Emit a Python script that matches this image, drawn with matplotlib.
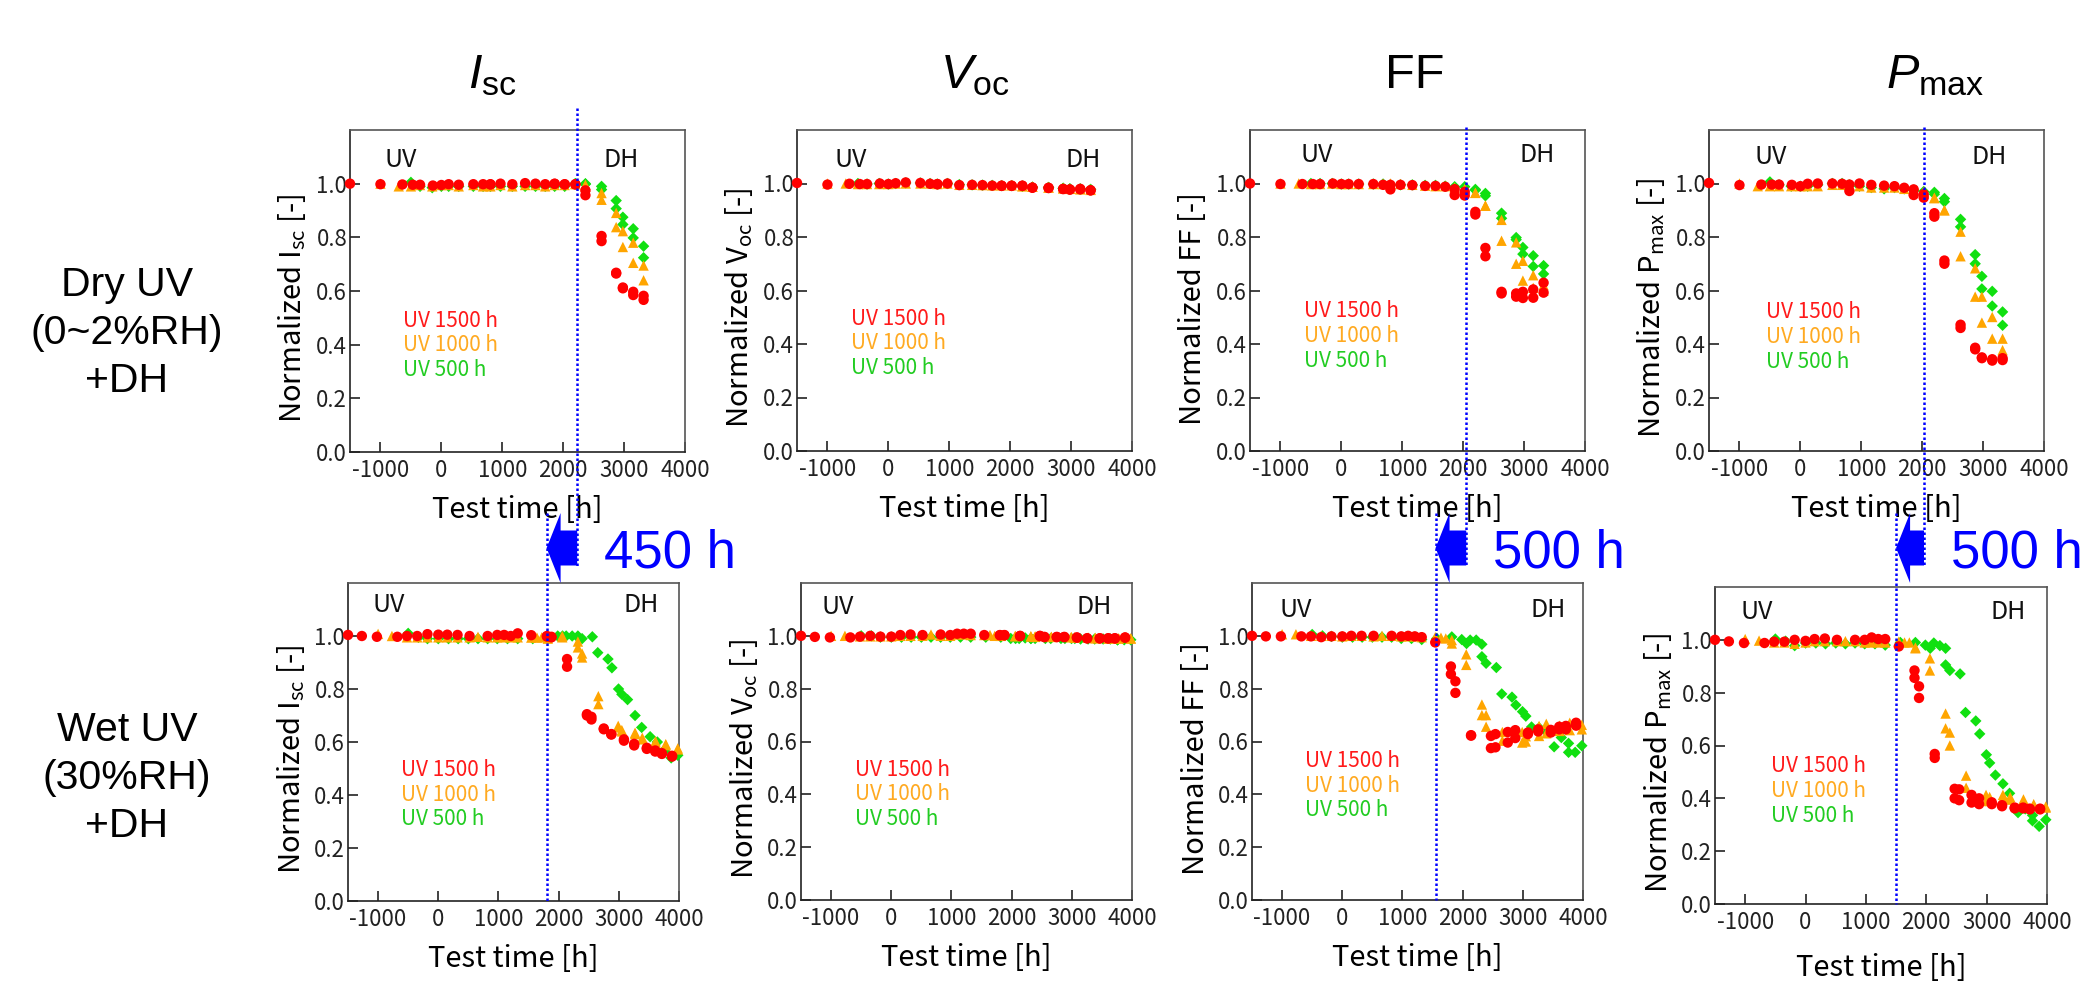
import matplotlib
matplotlib.use('Agg')
import matplotlib.pyplot as plt
from matplotlib.lines import Line2D
from matplotlib.patches import Polygon
from matplotlib.ticker import FormatStrFormatter

plt.rcParams['font.family'] = ['Noto Sans CJK KR', 'DejaVu Sans']
plt.rcParams['axes.unicode_minus'] = False
plt.rcParams['mathtext.fontset'] = 'custom'
plt.rcParams['mathtext.rm'] = 'Liberation Sans'
plt.rcParams['mathtext.it'] = 'Liberation Sans:italic'

# ---------------- data: Dry UV (0~2%RH) + DH ----------------
dry_t_red = [-1500, -1000, -640, -470, -350, -140, 0, 120, 285, 525, 685, 805, 805, 970, 1165, 1375, 1545, 1705,
             1860, 1860, 2025, 2025, 2200, 2200, 2365, 2365, 2630, 2630, 2870, 2870, 2980, 2980, 3150, 3150, 3320, 3320]
dry_isc_red = [1.0, 0.998, 0.997, 0.996, 0.996, 0.993, 0.995, 0.998, 0.996, 0.998, 0.998, 0.998, 0.997, 1.0, 0.998,
               1.002, 1.0, 0.998, 1.0, 0.999, 0.998, 0.997, 0.998, 0.997, 0.975, 0.957, 0.805, 0.786, 0.668, 0.665,
               0.613, 0.61, 0.597, 0.585, 0.582, 0.567]
dry_voc_red = [1.002, 0.996, 0.999, 0.998, 0.998, 1.0, 0.998, 1.001, 1.004, 1.002, 0.999, 0.998, 0.997, 1.0, 0.994,
               0.995, 0.994, 0.992, 0.992, 0.991, 0.992, 0.991, 0.992, 0.991, 0.985, 0.984, 0.984, 0.983, 0.98, 0.979,
               0.978, 0.977, 0.98, 0.978, 0.975, 0.974]
dry_ff_red = [1.0, 0.998, 0.998, 0.998, 0.998, 1.0, 0.998, 0.998, 0.998, 0.998, 0.995, 0.995, 0.978, 0.995, 0.994,
              0.991, 0.991, 0.988, 0.979, 0.957, 0.969, 0.955, 0.894, 0.884, 0.759, 0.728, 0.595, 0.589, 0.589, 0.577,
              0.595, 0.572, 0.604, 0.573, 0.629, 0.592]
dry_pmax_red = [1.002, 0.994, 0.996, 0.996, 0.996, 0.995, 0.99, 0.999, 1.0, 1.0, 0.999, 0.996, 0.972, 1.0, 0.995,
                0.992, 0.99, 0.984, 0.978, 0.957, 0.96, 0.947, 0.889, 0.876, 0.712, 0.70, 0.472, 0.46, 0.386, 0.38,
                0.35, 0.347, 0.343, 0.338, 0.347, 0.34]

dry_t_orange = [-1000, -700, -500, -350, -150, 0, 120, 285, 525, 685, 805, 970, 1165, 1375, 1545, 1705, 1860, 2025,
                2200, 2200, 2365, 2365, 2630, 2630, 2870, 2870, 2980, 2980, 3150, 3150, 3320, 3320]
dry_isc_orange = [1.0, 0.99, 0.99, 0.995, 0.99, 0.995, 0.995, 0.99, 0.995, 0.99, 0.99, 0.995, 0.99, 0.995, 0.995,
                  0.99, 0.995, 0.995, 1.0, 0.998, 0.996, 0.99, 0.965, 0.94, 0.891, 0.838, 0.823, 0.764, 0.78, 0.705,
                  0.695, 0.64]
dry_voc_orange = [1.0, 1.0, 0.998, 0.998, 0.998, 0.998, 1.0, 1.0, 1.0, 1.0, 0.998, 1.0, 0.995, 0.995, 0.994, 0.993,
                  0.993, 0.993, 0.99, 0.99, 0.988, 0.988, 0.985, 0.985, 0.982, 0.982, 0.98, 0.98, 0.98, 0.978,
                  0.978, 0.976]
dry_ff_orange = [1.0, 1.0, 0.998, 0.998, 1.0, 0.998, 0.998, 0.998, 0.998, 0.998, 1.0, 0.998, 0.995, 0.992, 0.99,
                 0.99, 0.985, 0.98, 0.965, 0.965, 0.917, 0.917, 0.864, 0.786, 0.78, 0.70, 0.711, 0.637, 0.657, 0.61,
                 0.62, 0.60]
dry_pmax_orange = [1.0, 0.99, 0.99, 0.99, 0.99, 0.99, 0.99, 0.99, 0.995, 0.995, 0.995, 0.99, 0.985, 0.985, 0.985,
                   0.98, 0.975, 0.97, 0.947, 0.945, 0.9, 0.9, 0.82, 0.728, 0.683, 0.577, 0.577, 0.48, 0.501, 0.42,
                   0.42, 0.377]

dry_t_green = [-500, -350, -150, 0, 120, 285, 525, 685, 805, 970, 1165, 1375, 1545, 1705, 1860, 2025,
               2200, 2200, 2365, 2365, 2630, 2630, 2870, 2870, 2980, 2980, 3150, 3150, 3320, 3320]
dry_isc_green = [1.005, 0.99, 0.985, 0.99, 0.99, 0.99, 0.99, 0.99, 0.99, 0.99, 0.99, 0.99, 0.99, 0.99, 0.99, 0.99,
                 1.0, 1.0, 1.0, 0.998, 0.99, 0.978, 0.937, 0.907, 0.875, 0.848, 0.832, 0.798, 0.767, 0.724]
dry_voc_green = [1.0, 0.998, 1.0, 0.998, 1.0, 1.002, 1.002, 1.0, 0.998, 1.0, 0.996, 0.995, 0.994, 0.993, 0.992,
                 0.992, 0.99, 0.99, 0.986, 0.986, 0.985, 0.985, 0.982, 0.982, 0.98, 0.98, 0.98, 0.979, 0.978, 0.977]
dry_ff_green = [1.0, 1.0, 1.0, 0.998, 0.998, 0.998, 0.998, 0.998, 0.995, 0.995, 0.995, 0.993, 0.993, 0.99, 0.988,
                0.988, 0.978, 0.975, 0.963, 0.954, 0.889, 0.87, 0.798, 0.79, 0.761, 0.736, 0.73, 0.69, 0.693, 0.662]
dry_pmax_green = [1.006, 0.995, 0.99, 0.99, 0.99, 0.995, 1.0, 1.0, 0.995, 0.99, 0.985, 0.98, 0.985, 0.98, 0.975,
                  0.97, 0.967, 0.96, 0.944, 0.932, 0.866, 0.838, 0.734, 0.70, 0.653, 0.606, 0.597, 0.542, 0.52, 0.47]

# ---------------- data: Wet UV (30%RH) + DH ----------------
wet_t_red = [-1500, -1270, -1020, -680, -520, -350, -180, 0, 150, 320, 520, 820, 980, 1095, 1205, 1320, 1545,
             1805, 1805, 1880, 1880, 2140, 2140, 2470, 2470, 2545, 2545, 2750, 2750, 2875, 2875, 3085, 3085,
             3255, 3255, 3465, 3465, 3605, 3605, 3715, 3715, 3885, 3885]
wet_isc_red = [1.004, 1.0, 0.997, 0.997, 1.0, 1.0, 1.007, 1.005, 1.005, 1.004, 1.0, 1.0, 1.004, 1.004, 1.0, 1.01,
               1.003, 1.0, 0.998, 0.997, 0.995, 0.913, 0.884, 0.705, 0.70, 0.695, 0.685, 0.651, 0.648, 0.63, 0.628,
               0.61, 0.605, 0.593, 0.587, 0.578, 0.574, 0.568, 0.564, 0.558, 0.555, 0.548, 0.545]
wet_voc_red = [1.0, 0.996, 0.994, 0.994, 0.997, 1.0, 0.997, 0.997, 1.003, 1.005, 1.003, 1.005, 1.003, 1.008, 1.008,
               1.008, 1.003, 1.003, 1.002, 1.003, 1.002, 1.0, 0.999, 1.0, 0.999, 0.996, 0.995, 0.996, 0.995, 0.996,
               0.995, 0.994, 0.993, 0.991, 0.99, 0.991, 0.99, 0.991, 0.99, 0.991, 0.99, 0.994, 0.993]
wet_ff_red = [1.0, 0.998, 0.998, 0.998, 0.998, 0.995, 0.998, 0.998, 1.0, 1.0, 1.0, 1.0, 0.998, 1.0, 0.998, 0.995,
              0.975, 0.884, 0.855, 0.828, 0.784, 0.624, 0.622, 0.621, 0.575, 0.628, 0.578, 0.636, 0.596, 0.643,
              0.613, 0.634, 0.628, 0.646, 0.638, 0.644, 0.634, 0.656, 0.646, 0.659, 0.646, 0.671, 0.66]
wet_pmax_red = [1.0, 0.994, 0.988, 0.988, 0.993, 0.993, 1.0, 0.996, 1.003, 1.005, 1.0, 1.0, 1.0, 1.009, 1.003,
                1.003, 0.975, 0.884, 0.856, 0.824, 0.78, 0.568, 0.553, 0.436, 0.40, 0.434, 0.393, 0.413, 0.384,
                0.40, 0.378, 0.385, 0.378, 0.374, 0.37, 0.365, 0.362, 0.365, 0.362, 0.361, 0.358, 0.361, 0.358]

wet_t_orange = [-1000, -770, -520, -350, -180, 0, 150, 320, 520, 660, 820, 980, 1095, 1205, 1320, 1545, 1640, 1720,
                1820, 1820, 2060, 2060, 2320, 2320, 2390, 2390, 2660, 2660, 2990, 2990, 3050, 3050, 3270, 3270,
                3390, 3390, 3610, 3610, 3780, 3780, 3980, 3980]
wet_isc_orange = [1.008, 1.0, 0.995, 0.995, 0.995, 0.995, 0.995, 0.995, 0.995, 0.997, 0.995, 0.995, 0.995, 0.995,
                  0.995, 0.994, 0.994, 0.995, 0.995, 0.99, 1.0, 0.995, 0.979, 0.957, 0.934, 0.919, 0.773, 0.743,
                  0.661, 0.655, 0.645, 0.64, 0.635, 0.63, 0.616, 0.61, 0.603, 0.598, 0.592, 0.588, 0.576, 0.572]
wet_voc_orange = [1.0, 1.0, 0.998, 0.998, 0.998, 0.998, 1.0, 1.0, 1.0, 1.005, 1.0, 1.0, 1.005, 1.005, 1.003, 1.003,
                  1.003, 1.0, 1.0, 1.0, 1.0, 0.998, 0.998, 0.998, 0.998, 0.996, 0.996, 0.996, 0.995, 0.995, 0.995,
                  0.993, 0.993, 0.993, 0.993, 0.99, 0.99, 0.99, 0.99, 0.99, 0.99, 0.99]
wet_ff_orange = [1.006, 1.006, 1.0, 1.0, 1.0, 0.998, 1.0, 1.0, 0.998, 1.0, 1.0, 0.998, 0.998, 0.998, 0.995, 0.995,
                 0.993, 0.99, 0.984, 0.971, 0.93, 0.89, 0.74, 0.70, 0.70, 0.656, 0.636, 0.603, 0.636, 0.596, 0.62,
                 0.60, 0.659, 0.621, 0.667, 0.631, 0.66, 0.64, 0.671, 0.643, 0.663, 0.646]
wet_pmax_orange = [1.003, 0.997, 0.99, 0.99, 0.985, 0.99, 0.995, 0.995, 0.995, 0.995, 0.995, 0.99, 0.99, 0.99, 0.99,
                   0.993, 0.99, 0.99, 0.971, 0.968, 0.93, 0.884, 0.721, 0.665, 0.649, 0.60, 0.486, 0.44, 0.413,
                   0.39, 0.405, 0.39, 0.413, 0.40, 0.405, 0.395, 0.396, 0.39, 0.378, 0.37, 0.369, 0.365]

wet_t_green = [-500, -330, -180, 0, 170, 330, 500, 660, 820, 980, 1150, 1320, 1570, 1820, 1985, 2065, 2125, 2225,
               2320, 2320, 2390, 2560, 2650, 2820, 2885, 2995, 3050, 3145, 3270, 3380, 3520, 3640, 3760, 3760,
               3870, 3980]
wet_isc_green = [1.01, 0.995, 0.99, 0.99, 0.99, 0.99, 0.99, 0.99, 0.99, 0.99, 0.99, 0.99, 0.99, 0.99, 1.0, 1.0,
                 1.0, 1.0, 1.0, 0.995, 0.99, 0.997, 0.937, 0.913, 0.88, 0.80, 0.78, 0.76, 0.70, 0.655, 0.62, 0.60,
                 0.57, 0.565, 0.54, 0.55]
wet_voc_green = [1.0, 1.0, 0.995, 0.995, 0.995, 0.995, 0.995, 0.995, 0.995, 0.995, 0.995, 0.995, 0.995, 0.995,
                 0.99, 0.99, 0.99, 0.992, 0.99, 0.99, 0.99, 0.99, 0.99, 0.99, 0.99, 0.99, 0.99, 0.988, 0.988, 0.988,
                 0.988, 0.988, 0.985, 0.985, 0.985, 0.985]
wet_ff_green = [1.005, 1.0, 0.998, 0.995, 0.995, 0.995, 0.995, 0.995, 0.995, 0.99, 0.99, 0.986, 0.99, 0.996, 0.986,
                0.971, 0.984, 0.984, 0.968, 0.921, 0.896, 0.88, 0.78, 0.768, 0.738, 0.713, 0.696, 0.655, 0.652,
                0.64, 0.58, 0.615, 0.593, 0.559, 0.559, 0.584]
wet_pmax_green = [1.003, 0.995, 0.978, 0.988, 0.988, 0.985, 0.988, 0.985, 0.988, 0.985, 0.985, 0.98, 0.99, 0.99,
                  0.98, 0.968, 0.988, 0.978, 0.968, 0.905, 0.884, 0.871, 0.725, 0.693, 0.644, 0.565, 0.534, 0.488,
                  0.455, 0.419, 0.346, 0.36, 0.336, 0.315, 0.294, 0.319]

# ---------------- labels ----------------
col_titles = [r'$\mathit{I}_\mathrm{sc}$', r'$\mathit{V}_\mathrm{oc}$', 'FF', r'$\mathit{P}_\mathrm{max}$']
row_titles = ['Dry UV\n(0~2%RH)\n+DH', 'Wet UV\n(30%RH)\n+DH']
y_labels = [r'Normalized I$_\mathdefault{sc}$ [-]', r'Normalized V$_\mathdefault{oc}$ [-]',
            'Normalized FF [-]', r'Normalized P$_\mathdefault{max}$ [-]']
series_labels = ['UV 1500 h', 'UV 1000 h', 'UV 500 h']
x_ticks = [-1000, 0, 1000, 2000, 3000, 4000]
y_ticks = [0.0, 0.2, 0.4, 0.6, 0.8, 1.0]
# vertical markers: end of UV in top row / bottom row, and the shift label
shift_top = [2230, None, 2050, 2030]
shift_bot = [1800, None, 1550, 1500]
shift_text = ['450 h', None, '500 h', '500 h']

rows = [
    [(dry_t_green, [dry_isc_green, dry_voc_green, dry_ff_green, dry_pmax_green]),
     (dry_t_orange, [dry_isc_orange, dry_voc_orange, dry_ff_orange, dry_pmax_orange]),
     (dry_t_red, [dry_isc_red, dry_voc_red, dry_ff_red, dry_pmax_red])],
    [(wet_t_green, [wet_isc_green, wet_voc_green, wet_ff_green, wet_pmax_green]),
     (wet_t_orange, [wet_isc_orange, wet_voc_orange, wet_ff_orange, wet_pmax_orange]),
     (wet_t_red, [wet_isc_red, wet_voc_red, wet_ff_red, wet_pmax_red])],
]

marker_style = [dict(marker='D', s=34, color='#10E010'),
                dict(marker='^', s=56, color='#FFA500'),
                dict(marker='o', s=56, color='#FF0000')]
text_colors = ['#FF1A1A', '#FFAA22', '#22CC22']

# ---------------- layout (pixels) ----------------
W, H = 2082, 981
boxes = [[(350, 130, 685, 452), (797, 130, 1132, 451), (1250, 130, 1585, 451), (1709, 130, 2044, 451)],
         [(348, 583, 679, 901), (801, 583, 1132, 900), (1252, 583, 1583, 900), (1715, 587, 2047, 904)]]
uvdh_pos = [[(-940, 2670, 1.09), (-884, 2906, 1.087), (-670, 2927, 1.105), (-752, 2816, 1.10)],
            [(-1094, 3083, 1.117), (-1155, 3083, 1.109), (-1050, 3128, 1.096), (-1083, 3061, 1.105)]]
leg_pos = [[(-624, 0.49), (-610, 0.495), (-620, 0.523), (-571, 0.52)],
           [(-622, 0.494), (-611, 0.494), (-622, 0.525), (-569, 0.521)]]

fig = plt.figure(figsize=(W / 100, H / 100), dpi=100)
axes = []
for r in range(2):
    arow = []
    for c in range(4):
        l, t, rr, b = boxes[r][c]
        ax = fig.add_axes([l / W, 1 - b / H, (rr - l) / W, (b - t) / H])
        ax.set_xlim(-1500, 4000)
        ax.set_ylim(0, 1.2)
        ax.set_xticks(x_ticks)
        ax.set_yticks(y_ticks)
        ax.yaxis.set_major_formatter(FormatStrFormatter('%.1f'))
        ax.tick_params(direction='in', length=7, width=1.2, labelsize=16, colors='#222222')
        ax.tick_params(axis='x', pad=5)
        ax.tick_params(axis='y', pad=2)
        for side, sp in ax.spines.items():
            sp.set_linewidth(1.2)
            sp.set_color('#222222' if side in ('left', 'bottom') else '#555555')
        for (tt, vals), st in zip(rows[r], marker_style):
            ax.scatter(tt, vals[c], marker=st['marker'], s=st['s'], color=st['color'],
                       edgecolors='none', clip_on=False, zorder=3)
        ax.set_xlabel('Test time [h]', fontsize=21)
        ax.xaxis.set_label_coords(0.5, -0.135 if not (r == 1 and c == 3) else -0.155)
        ax.set_ylabel(y_labels[c], fontsize=21)
        ax.yaxis.set_label_coords(-0.125, 0.445)
        ux, dx, uy = uvdh_pos[r][c]
        ax.text(ux, uy, 'UV', fontsize=18, ha='left', va='center', color='#111111')
        ax.text(dx, uy, 'DH', fontsize=18, ha='left', va='center', color='#111111')
        lx, ly = leg_pos[r][c]
        for k, (lab, col) in enumerate(zip(series_labels, text_colors)):
            ax.text(lx, ly - 0.093 * k, lab, fontsize=15, color=col, ha='left', va='center')
        arow.append(ax)
    axes.append(arow)

# column titles and row titles
title_x = [492, 975, 1415, 1935]
for c in range(4):
    fig.text(title_x[c] / W, 1 - 88 / H, col_titles[c], fontsize=35, family='Liberation Sans',
             ha='center', va='baseline')
row_y = [333, 778]
for r in range(2):
    fig.text(127 / W, 1 - row_y[r] / H, row_titles[r], fontsize=29.5, family='Liberation Sans',
             ha='center', va='center', linespacing=1.32, multialignment='center')

# shift markers: dotted lines, arrows, texts
blue = '#0000FF'
top_start = [108, None, 127, 127]
yc = 548
for c in range(4):
    if shift_top[c] is None:
        continue
    xt = axes[0][c].transData.transform((shift_top[c], 0))[0]
    xb = axes[1][c].transData.transform((shift_bot[c], 0))[0]
    ybot = boxes[1][c][3]
    # arrow (left-pointing block arrow from top-row line to bottom-row line)
    pts = [(xb, yc), (xb + 14, yc - 35), (xb + 14, yc - 17.5), (xt, yc - 17.5),
           (xt, yc + 17.5), (xb + 14, yc + 17.5), (xb + 14, yc + 35)]
    fig.add_artist(Polygon([(px / W, 1 - py / H) for px, py in pts], closed=True,
                           transform=fig.transFigure, facecolor=blue, edgecolor='none', zorder=5))
    fig.add_artist(Line2D([xt / W, xt / W], [1 - top_start[c] / H, 1 - 566 / H], transform=fig.transFigure,
                          color=blue, lw=1.8, ls=(0, (1, 1)), zorder=6))
    fig.add_artist(Line2D([xb / W, xb / W], [1 - 513 / H, 1 - ybot / H], transform=fig.transFigure,
                          color=blue, lw=1.8, ls=(0, (1, 1)), zorder=6))
    fig.text((xt + 27) / W, 1 - 568 / H, shift_text[c], fontsize=38, family='Liberation Sans',
             color=blue, ha='left', va='baseline')

fig.savefig('out.png', dpi=100)
